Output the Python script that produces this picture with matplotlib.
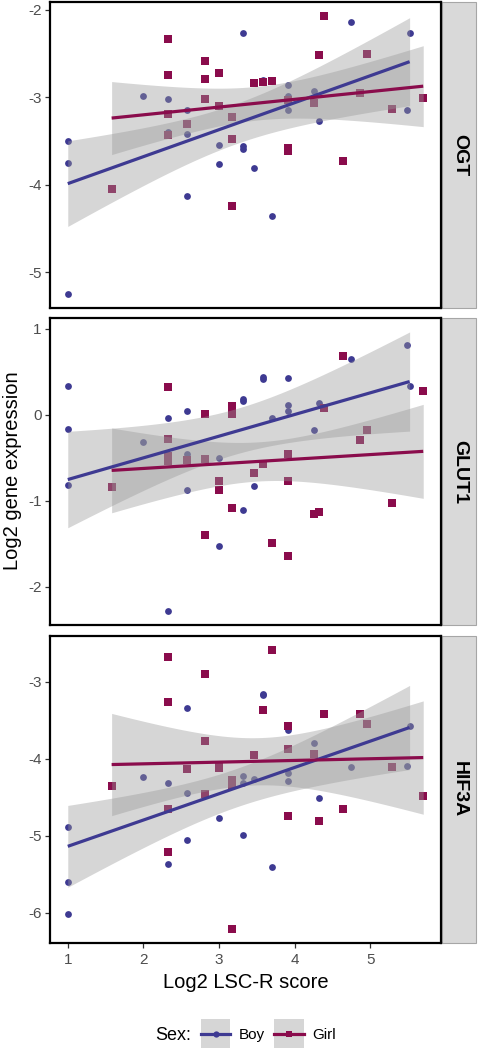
import numpy as np
import matplotlib
matplotlib.use("Agg")
import matplotlib.pyplot as plt
from matplotlib.lines import Line2D
from matplotlib.patches import Rectangle
from matplotlib.ticker import MultipleLocator

plt.rcParams["font.family"] = ["Liberation Sans", "DejaVu Sans"]

# DATOS
genes = ["OGT", "GLUT1", "HIF3A"]
sexes = ["Boy", "Girl"]

x_boy = [1.0, 1.0, 1.0, 2.0, 2.32, 2.32, 2.58, 2.58, 2.58, 3.0, 3.0, 3.32, 3.32,
         3.32, 3.46, 3.58, 3.58, 3.70, 3.91, 3.91, 3.91, 4.25, 4.32, 4.75, 5.49, 5.52]
x_girl = [1.58, 2.32, 2.32, 2.32, 2.32, 2.58, 2.81, 2.81, 2.81, 3.0, 3.0, 3.17, 3.17,
          3.17, 3.46, 3.58, 3.70, 3.91, 3.91, 3.91, 4.25, 4.32, 4.39, 4.64, 4.86,
          4.95, 5.29, 5.70]

ogt_boy = [-3.50, -3.75, -5.25, -2.99, -3.02, -3.40, -3.14, -3.42, -4.13, -3.55, -3.76,
           -2.27, -3.56, -3.59, -3.81, -2.80, -2.82, -4.36, -2.86, -2.99, -3.14, -2.93,
           -3.27, -2.14, -3.15, -2.27]
ogt_girl = [-4.05, -2.33, -2.74, -3.19, -3.43, -3.30, -2.59, -2.79, -3.02, -2.72, -3.10,
            -3.22, -3.48, -4.24, -2.84, -2.83, -2.81, -3.03, -3.58, -3.61, -3.07, -2.52,
            -2.07, -3.73, -2.95, -2.50, -3.13, -3.01]

glut1_boy = [0.34, -0.16, -0.81, -0.32, -0.04, -2.28, 0.05, -0.45, -0.87, -0.50, -1.52,
             0.19, 0.16, -1.11, -0.83, 0.44, 0.42, -0.04, 0.43, 0.12, 0.05, -0.18, 0.14,
             0.65, 0.81, 0.34]
glut1_girl = [-0.84, 0.33, -0.28, -0.48, -0.53, -0.52, 0.01, -0.51, -1.39, -0.77, -0.87,
              0.10, 0.01, -1.08, -0.68, -0.57, -1.49, -0.45, -0.77, -1.64, -1.15, -1.13,
              0.08, 0.69, -0.29, -0.18, -1.02, 0.28]

hif3a_boy = [-4.88, -5.60, -6.01, -4.24, -4.32, -5.36, -3.34, -4.44, -5.06, -4.12, -4.77,
             -4.22, -4.32, -4.99, -4.26, -3.16, -3.18, -5.41, -3.63, -4.19, -4.29, -3.80,
             -4.51, -4.11, -4.10, -3.57]
hif3a_girl = [-4.35, -2.68, -3.27, -4.65, -5.21, -4.14, -2.90, -3.77, -4.46, -4.09, -4.12,
              -4.28, -4.34, -6.21, -3.95, -3.37, -2.59, -3.58, -3.87, -4.74, -3.94, -4.81,
              -3.42, -4.65, -3.42, -3.55, -4.11, -4.48]

datos = {
    "OGT": (ogt_boy, ogt_girl),
    "GLUT1": (glut1_boy, glut1_girl),
    "HIF3A": (hif3a_boy, hif3a_girl),
}

colores = {"Boy": "#3E3A92", "Girl": "#8A0C4C"}
marcadores = {"Boy": "o", "Girl": "s"}
banda = "#999999"


def t_critico(df, z=1.959964):
    # aproximacion de la t de Student al 95%
    return z + (z**3 + z) / (4 * df) + (5 * z**5 + 16 * z**3 + 3 * z) / (96 * df**2)


def ajuste_lineal(x, y):
    x = np.asarray(x)
    y = np.asarray(y)
    n = len(x)
    b, a = np.polyfit(x, y, 1)
    xs = np.linspace(x.min(), x.max(), 80)
    ys = a + b * xs
    resid = y - (a + b * x)
    s = np.sqrt(np.sum(resid**2) / (n - 2))
    se = s * np.sqrt(1 / n + (xs - x.mean())**2 / np.sum((x - x.mean())**2))
    t = t_critico(n - 2)
    return xs, ys, ys - t * se, ys + t * se


class HandlerClave:
    # clave estilo ggplot: caja gris con linea y punto centrados
    def legend_artist(self, legend, orig_handle, fontsize, handlebox):
        w = handlebox.width
        yc = 0.36 * fontsize
        caja = Rectangle((0, yc - w / 2), w, w, facecolor="#D6D6D6", edgecolor="none")
        linea = Line2D([0, w], [yc, yc], color=orig_handle.get_color(),
                       lw=orig_handle.get_linewidth())
        punto = Line2D([w / 2], [yc], marker=orig_handle.get_marker(), markersize=4.5,
                       color=orig_handle.get_color(), markeredgewidth=0, linestyle="none")
        for a in (caja, linea, punto):
            handlebox.add_artist(a)
        return caja


W, H = 479, 1050
fig = plt.figure(figsize=(W / 100, H / 100), dpi=100)

paneles = [(2, 308), (318, 625), (636, 943)]
izq, der = 50, 441
ancho_tira = 34

ejes = []
for i, gen in enumerate(genes):
    top, bot = paneles[i]
    ax = fig.add_axes([izq / W, 1 - bot / H, (der - izq) / W, (bot - top) / H])
    ejes.append(ax)
    y_boy, y_girl = datos[gen]

    # puntos primero, luego bandas y lineas encima (como geom_smooth)
    ax.scatter(x_boy, y_boy, s=24, marker=marcadores["Boy"], color=colores["Boy"],
               linewidths=0, zorder=1)
    ax.scatter(x_girl, y_girl, s=26, marker=marcadores["Girl"], color=colores["Girl"],
               linewidths=0, zorder=1)

    for sexo, xx, yy in [("Boy", x_boy, y_boy), ("Girl", x_girl, y_girl)]:
        xs, ys, lo, hi = ajuste_lineal(xx, yy)
        ax.fill_between(xs, lo, hi, color=banda, alpha=0.4, linewidth=0, zorder=2)
        ax.plot(xs, ys, color=colores[sexo], lw=2.3, zorder=3, solid_capstyle="butt")

    ax.margins(x=0.05, y=0.05)
    ax.yaxis.set_major_locator(MultipleLocator(1))
    ax.xaxis.set_major_locator(MultipleLocator(1))
    for sp in ax.spines.values():
        sp.set_linewidth(1.6)
        sp.set_color("black")
    ax.tick_params(axis="both", length=3.5, width=0.9, color="#333333",
                   labelsize=11, labelcolor="#4D4D4D", pad=2.5)
    ax.yaxis.set_major_formatter(plt.FuncFormatter(lambda v, p: f"{v:.0f}"))

    # tira lateral con el nombre del gen
    ax.add_patch(Rectangle((1.0 + 1.5 / (der - izq), 0), ancho_tira / (der - izq), 1,
                           transform=ax.transAxes, facecolor="#D9D9D9",
                           edgecolor="#A6A6A6", lw=0.8, clip_on=False, zorder=0))
    ax.text(1.0 + (1.5 + ancho_tira / 2) / (der - izq), 0.5, gen, transform=ax.transAxes,
            rotation=-90, ha="center", va="center", fontsize=14, fontweight="bold",
            color="black")

for ax in ejes[1:]:
    ax.sharex(ejes[0])
for ax in ejes[:-1]:
    ax.tick_params(axis="x", which="both", bottom=False, labelbottom=False)
ejes[-1].set_xlim(ejes[0].get_xlim())
ejes[-1].tick_params(axis="x", pad=4)

fig.text(13 / W, 1 - 471 / H, "Log2 gene expression", rotation=90, ha="center",
         va="center", fontsize=14.5)
fig.text((izq + der) / 2 / W, 1 - 982 / H, "Log2 LSC-R score", ha="center",
         va="center", fontsize=14.5)

# LEYENDA
manejadores = [Line2D([], [], color=colores[s], lw=2.3, marker=marcadores[s]) for s in sexes]

fig.text(155 / W, 1 - 1035 / H, "Sex:", ha="left", va="center", fontsize=13)
fig.legend(manejadores, sexes, loc="center left", bbox_to_anchor=(201 / W, 1 - 1035 / H),
           ncol=2, frameon=False, fontsize=11, handlelength=1.9, handleheight=0.7,
           handletextpad=0.6, columnspacing=0.6, borderpad=0, borderaxespad=0,
           handler_map={Line2D: HandlerClave()})

fig.savefig("out.png", dpi=100)
